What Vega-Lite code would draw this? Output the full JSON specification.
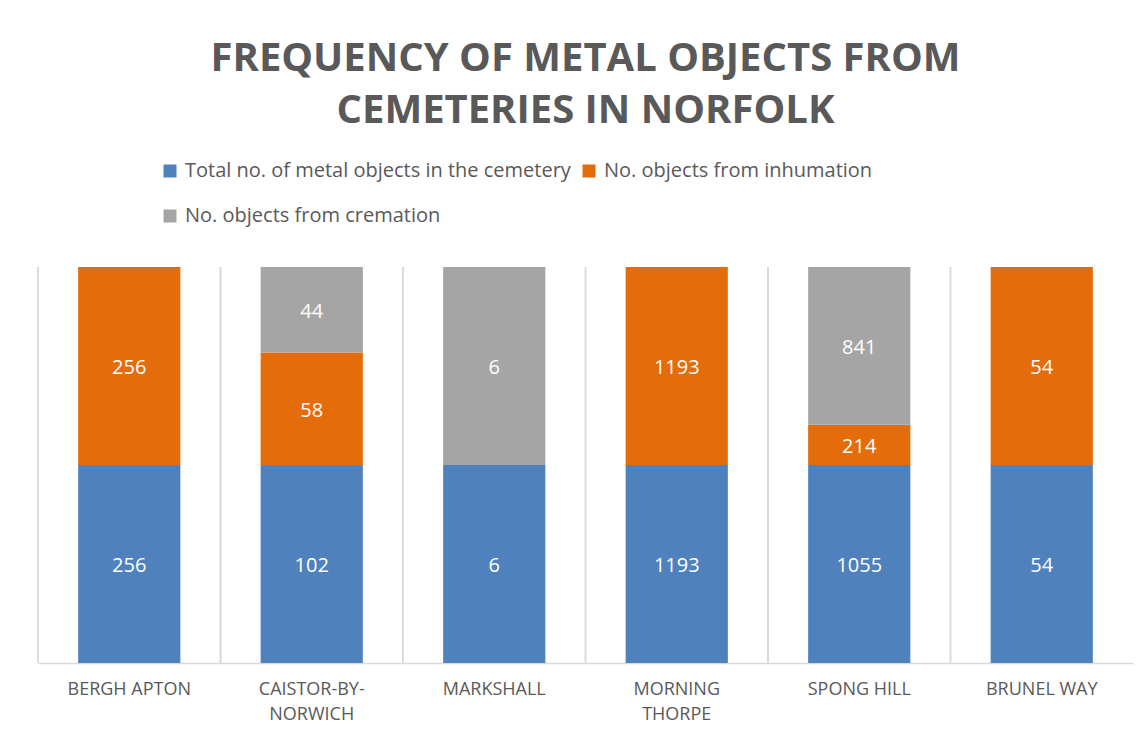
{
  "$schema": "https://vega.github.io/schema/vega-lite/v6.json",
  "width": 1095,
  "height": 396,
  "autosize": {"type": "none"},
  "padding": {"left": 38, "top": 267, "right": 13, "bottom": 78},
  "background": "white",
  "title": {
    "text": ["FREQUENCY OF  METAL OBJECTS FROM", "CEMETERIES IN NORFOLK"],
    "font": "Open Sans",
    "fontSize": 40,
    "fontWeight": "bold",
    "color": "#595959",
    "anchor": "middle",
    "lineHeight": 52,
    "offset": 30
  },
  "data": {
    "values": [
      {"site": "BERGH APTON", "series": "Total no. of metal objects in the cemetery", "value": 256, "order": 1},
      {"site": "BERGH APTON", "series": "No. objects from inhumation", "value": 256, "order": 2},
      {"site": "CAISTOR-BY-NORWICH", "series": "Total no. of metal objects in the cemetery", "value": 102, "order": 1},
      {"site": "CAISTOR-BY-NORWICH", "series": "No. objects from inhumation", "value": 58, "order": 2},
      {"site": "CAISTOR-BY-NORWICH", "series": "No. objects from cremation", "value": 44, "order": 3},
      {"site": "MARKSHALL", "series": "Total no. of metal objects in the cemetery", "value": 6, "order": 1},
      {"site": "MARKSHALL", "series": "No. objects from cremation", "value": 6, "order": 3},
      {"site": "MORNING THORPE", "series": "Total no. of metal objects in the cemetery", "value": 1193, "order": 1},
      {"site": "MORNING THORPE", "series": "No. objects from inhumation", "value": 1193, "order": 2},
      {"site": "SPONG HILL", "series": "Total no. of metal objects in the cemetery", "value": 1055, "order": 1},
      {"site": "SPONG HILL", "series": "No. objects from inhumation", "value": 214, "order": 2},
      {"site": "SPONG HILL", "series": "No. objects from cremation", "value": 841, "order": 3},
      {"site": "BRUNEL WAY", "series": "Total no. of metal objects in the cemetery", "value": 54, "order": 1},
      {"site": "BRUNEL WAY", "series": "No. objects from inhumation", "value": 54, "order": 2}
    ]
  },
  "transform": [
    {"stack": "value", "groupby": ["site"], "sort": [{"field": "order", "order": "ascending"}], "offset": "normalize", "as": ["y0", "y1"]},
    {"calculate": "(datum.y0 + datum.y1) / 2", "as": "ymid"}
  ],
  "encoding": {
    "x": {
      "field": "site",
      "type": "nominal",
      "sort": ["BERGH APTON", "CAISTOR-BY-NORWICH", "MARKSHALL", "MORNING THORPE", "SPONG HILL", "BRUNEL WAY"],
      "scale": {"paddingInner": 0, "paddingOuter": 0},
      "axis": {
        "title": null,
        "labelAngle": 0,
        "labelFont": "Open Sans",
        "labelFontSize": 18,
        "labelColor": "#595959",
        "labelPadding": 17,
        "labelLineHeight": 25,
        "labelBaseline": "top",
        "ticks": false,
        "grid": false,
        "domain": true,
        "domainColor": "#d9d9d9",
        "domainWidth": 1.5,
        "labelExpr": "datum.label == 'CAISTOR-BY-NORWICH' ? ['CAISTOR-BY-', 'NORWICH'] : datum.label == 'MORNING THORPE' ? ['MORNING', 'THORPE'] : datum.label"
      }
    }
  },
  "layer": [
    {
      "mark": {"type": "rule", "color": "#d9d9d9", "strokeWidth": 1.5},
      "encoding": {
        "x": {"field": "site", "type": "nominal", "bandPosition": 0, "sort": ["BERGH APTON", "CAISTOR-BY-NORWICH", "MARKSHALL", "MORNING THORPE", "SPONG HILL", "BRUNEL WAY"]}
      }
    },
    {
      "mark": {"type": "bar", "width": {"band": 0.56}},
      "encoding": {
        "y": {
          "field": "y0",
          "type": "quantitative",
          "scale": {"domain": [0, 1]},
          "axis": {"orient": "right", "title": null, "labels": false, "ticks": false, "grid": false, "domain": true, "domainColor": "#d9d9d9", "domainWidth": 1.5}
        },
        "y2": {"field": "y1"},
        "color": {
          "field": "series",
          "type": "nominal",
          "scale": {
            "domain": ["Total no. of metal objects in the cemetery", "No. objects from inhumation", "No. objects from cremation"],
            "range": ["#4F81BD", "#E46C0A", "#A5A5A5"]
          },
          "legend": {
            "title": null,
            "orient": "none",
            "legendX": 122,
            "legendY": -106,
            "direction": "horizontal",
            "columns": 2,
            "columnPadding": 8,
            "rowPadding": 25,
            "symbolType": "square",
            "symbolSize": 169,
            "symbolStrokeWidth": 0,
            "labelFont": "Open Sans",
            "labelFontSize": 20,
            "labelColor": "#595959",
            "labelOffset": 5,
            "labelLimit": 600
          }
        }
      }
    },
    {
      "mark": {"type": "text", "color": "white", "font": "Open Sans", "fontSize": 20, "baseline": "middle", "align": "center", "dy": 2},
      "encoding": {
        "y": {"field": "ymid", "type": "quantitative", "axis": null},
        "text": {"field": "value", "type": "quantitative"}
      }
    }
  ],
  "config": {"view": {"stroke": null}}
}
